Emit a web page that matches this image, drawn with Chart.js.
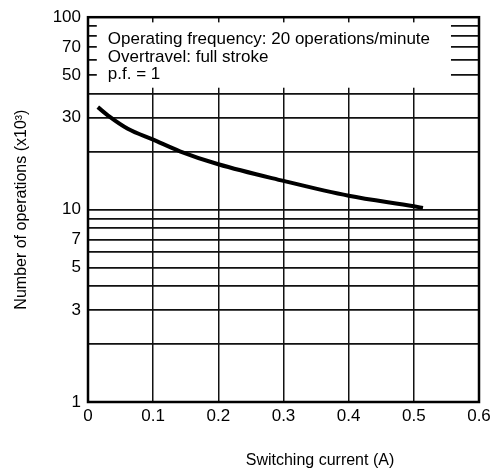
<!DOCTYPE html>
<html>
<head>
<meta charset="utf-8">
<script src="https://cdn.jsdelivr.net/npm/chart.js@4"></script>
<style>
  html, body { margin: 0; padding: 0; background: #fff; }
  #wrap { width: 497px; height: 476px; }
</style>
</head>
<body>
<div id="wrap"><canvas id="myChart" width="497" height="476"></canvas></div>
<script>
// switching current (A) and number of operations (x10^3)
const current = [0.015, 0.033, 0.061, 0.1, 0.141, 0.2, 0.3, 0.4, 0.5, 0.514];
const operations = [34.1, 30.4, 26.3, 23.1, 20.1, 17.2, 14.1, 11.8, 10.4, 10.2];

const xTicks = [0, 0.1, 0.2, 0.3, 0.4, 0.5, 0.6];
const yGrid = [1, 2, 3, 4, 5, 6, 7, 8, 9, 10, 20, 30, 40, 50, 60, 70, 80, 90, 100];
const yLabels = [1, 3, 5, 7, 10, 30, 50, 70, 100];

const notes = [
  "Operating frequency: 20 operations/minute",
  "Overtravel: full stroke",
  "p.f. = 1"
];
const xTitle = "Switching current (A)";
const yTitle = "Number of operations (x10\u00B3)";

const FONT = "'Liberation Sans', Arial, sans-serif";

// white note box over the top of the grid, then text, titles and frame
const decor = {
  id: "decor",
  afterDraw(chart) {
    const ctx = chart.ctx;
    const x = chart.scales.x;
    const y = chart.scales.y;
    const area = chart.chartArea;

    const bx0 = x.getPixelForValue(0.0135);
    const bx1 = x.getPixelForValue(0.557);
    const by0 = y.getPixelForValue(94);
    const by1 = y.getPixelForValue(43);
    ctx.save();
    ctx.fillStyle = "#fff";
    ctx.fillRect(bx0, by0, bx1 - bx0, by1 - by0);

    ctx.fillStyle = "#000";
    ctx.font = "17px " + FONT;
    ctx.textBaseline = "alphabetic";
    ctx.textAlign = "left";
    for (let i = 0; i < notes.length; i++) {
      ctx.fillText(notes[i], bx0 + 11, by0 + 22 + i * 17.5);
    }

    // axis titles
    ctx.font = "16px " + FONT;
    ctx.textBaseline = "middle";
    ctx.textAlign = "center";
    ctx.fillText(xTitle, x.getPixelForValue(0.356), area.bottom + 59);
    ctx.translate(22, (area.top + area.bottom) / 2);
    ctx.rotate(-Math.PI / 2);
    ctx.fillText(yTitle, 0, 0);
    ctx.restore();

    // frame
    ctx.save();
    ctx.strokeStyle = "#000";
    ctx.lineWidth = 2.5;
    ctx.strokeRect(area.left, area.top, area.right - area.left, area.bottom - area.top);
    ctx.restore();
  }
};

const data = {
  datasets: [
    {
      label: "operations",
      data: current.map((c, i) => ({ x: c, y: operations[i] })),
      borderColor: "#000",
      borderWidth: 4,
      pointRadius: 0,
      cubicInterpolationMode: "monotone",
      fill: false
    }
  ]
};

const config = {
  type: "line",
  data: data,
  options: {
    responsive: false,
    animation: false,
    layout: { padding: { top: 13, right: 18, left: 0, bottom: 0 } },
    plugins: { legend: { display: false }, tooltip: { enabled: false } },
    scales: {
      x: {
        type: "linear",
        min: 0,
        max: 0.6,
        afterBuildTicks: (s) => { s.ticks = xTicks.map((v) => ({ value: v })); },
        afterFit: (s) => { s.height = 74; },
        grid: { color: "#111", lineWidth: 1.5, drawTicks: false },
        border: { display: false },
        ticks: {
          color: "#000",
          font: { size: 17, family: FONT },
          padding: 4,
          maxRotation: 0,
          autoSkip: false,
          callback: (v) => String(v)
        }
      },
      y: {
        type: "logarithmic",
        min: 1,
        max: 100,
        afterBuildTicks: (s) => { s.ticks = yGrid.map((v) => ({ value: v })); },
        afterFit: (s) => { s.width = 88; },
        grid: { color: "#111", lineWidth: 1.8, drawTicks: false },
        border: { display: false },
        ticks: {
          color: "#000",
          font: { size: 17, family: FONT },
          padding: 7,
          autoSkip: false,
          callback: (v) => (yLabels.includes(v) ? String(v) : "")
        }
      }
    }
  },
  plugins: [decor]
};

const myChart = new Chart(document.getElementById("myChart"), config);
</script>
</body>
</html>
